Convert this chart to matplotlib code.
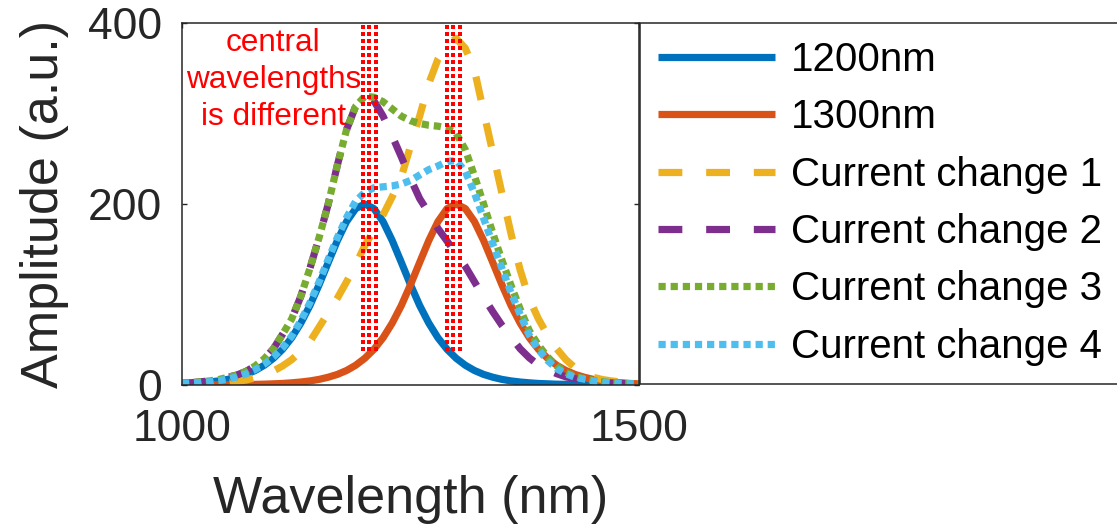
import matplotlib.pyplot as plt

plt.rcParams['font.family'] = ['Liberation Sans', 'DejaVu Sans']

# sample grid (nm)
wavelength = list(range(1000, 1501, 10))

amp_1200 = [1.3, 1.7, 2.4, 3.3, 4.5, 6.2, 8.6, 11.7, 16.0, 21.8,
            29.5, 39.4, 52.2, 68.4, 87.9, 110.8, 135.4, 159.6, 180.5, 194.9,
            200,
            194.9, 180.5, 159.6, 135.4, 110.8, 87.9, 68.4, 52.2, 39.4, 29.5,
            21.8, 16.0, 11.7, 8.6, 6.2, 4.5, 3.3, 2.4, 1.7, 1.3,
            0.9, 0.7, 0.5, 0.35, 0.25, 0.2, 0.14, 0.1, 0.07, 0.05]

amp_1300 = [0.05, 0.07, 0.1, 0.14, 0.2, 0.25, 0.35, 0.5, 0.7, 0.9,
            1.3, 1.7, 2.4, 3.3, 4.5, 6.2, 8.6, 11.7, 16.0, 21.8,
            29.5, 39.4, 52.2, 68.4, 87.9, 110.8, 135.4, 159.6, 180.5, 194.9,
            200,
            194.9, 180.5, 159.6, 135.4, 110.8, 87.9, 68.4, 52.2, 39.4,
            29.5, 21.8, 16.0, 11.7, 8.6, 6.2, 4.5, 3.3, 2.4, 1.7, 1.3]

change_1 = [1, 1.2, 1.5, 2, 2.5, 3, 4, 5.5, 8, 11,
            15.5, 21, 28, 37, 48, 64, 80, 96, 114, 133,
            154, 171, 188, 208, 230, 264, 297, 333, 360, 376,
            383,
            372, 348, 302, 257, 212, 167, 127, 95, 73, 55,
            40, 28, 19, 12, 8.5, 6, 4.5, 3.3, 2.5, 2]

change_2 = [2, 2.5, 3.5, 4.5, 6, 8.5, 11, 15, 21, 29,
            40, 56, 73, 98, 129, 163, 200, 243, 282, 308,
            320,
            314, 297, 275, 252, 228, 206, 190, 173, 159,
            145, 131, 114, 97, 81, 66, 53, 40, 30, 22,
            17, 12.5, 9, 7, 5, 4, 3, 2.3, 1.8, 1.4, 1]

change_3 = [2, 2.5, 3.5, 4.5, 6, 8.5, 11, 15, 21, 29,
            40, 56, 73, 98, 129, 163, 200, 243, 282, 308,
            319,
            318, 313, 305, 297, 292, 289, 287, 286, 284,
            278, 260, 231, 200, 168, 138, 110, 84, 60, 44,
            31, 21, 14, 9.5, 7, 5, 3.5, 2.6, 2, 1.5, 1.2]

change_4 = [1.5, 2, 2.7, 3.6, 4.8, 6.5, 9, 12.3, 17, 23,
            31, 41, 54, 71, 91, 114, 139, 163, 185, 203,
            213,
            218, 219, 220, 222, 226, 232, 238, 242, 247,
            248, 236, 212, 184, 156, 129, 102, 78, 55, 39,
            27, 18, 12.5, 8.5, 6.5, 4.5, 3.3, 2.5, 1.8, 1.4, 1.1]

labels = ['1200nm', '1300nm', 'Current change 1', 'Current change 2',
          'Current change 3', 'Current change 4']
series = [amp_1200, amp_1300, change_1, change_2, change_3, change_4]
colors = ['#0072BD', '#D95319', '#EDB120', '#7E2F8E', '#77AC30', '#4DBEEE']
dash = (0, (3.3, 3.3))
dot = (0, (1, 0.68))
styles = ['-', '-', dash, dash, dot, dot]

# red guide lines around the two centres
guide_x = [1198, 1205, 1212, 1290, 1297, 1304]
guide_y = [38, 400]
note = 'central\nwavelengths\nis different'

W, H = 1117, 529
fig = plt.figure(figsize=(W / 100, H / 100), dpi=100)
ax = fig.add_axes([182 / W, 1 - 385 / H, 457 / W, 362 / H])

for ys, c, ls, lab in zip(series, colors, styles, labels):
    ax.plot(wavelength, ys, color=c, lw=5.2, linestyle=ls, label=lab,
            dash_capstyle='butt', solid_capstyle='butt')

for gx in guide_x:
    ax.plot([gx, gx], guide_y, color='red', lw=2.6, linestyle=(0, (1.1, 0.9)),
            dash_capstyle='butt', antialiased=False)

ax.text(1100, 337, note, color='red', fontsize=22.7, ha='center',
        va='center', linespacing=1.32)

ax.set_xlim(1000, 1500)
ax.set_ylim(0, 400)
ax.set_xticks([1000, 1500])
ax.set_yticks([0, 200, 400])
ax.tick_params(direction='in', length=3.6, width=1, top=True, right=True,
               labelsize=32, colors='#262626')
ax.tick_params(axis='x', pad=17.6)
ax.tick_params(axis='y', pad=14.4)
for sp in ax.spines.values():
    sp.set_linewidth(1.1)
    sp.set_color('#262626')

ax.set_xlabel('Wavelength (nm)', fontsize=37.5, color='#262626')
ax.xaxis.label.set_va('center')
ax.xaxis.set_label_coords(0.5, (385 - 499) / 362)
ax.set_ylabel('Amplitude (a.u.)', fontsize=37.5, color='#262626')
ax.yaxis.label.set_va('center')
ax.yaxis.set_label_coords((45 - 182) / 457, 0.5)

leg = ax.legend(loc='upper left', bbox_to_anchor=(640 / W, 1 - 23 / H),
                bbox_transform=fig.transFigure, borderaxespad=0, fontsize=29,
                fancybox=False, edgecolor='#262626', framealpha=1,
                borderpad=0.45, labelspacing=0.48, handlelength=2.9,
                handletextpad=0.4)
leg.get_frame().set_linewidth(1.1)

fig.savefig('out.png', dpi=100)
